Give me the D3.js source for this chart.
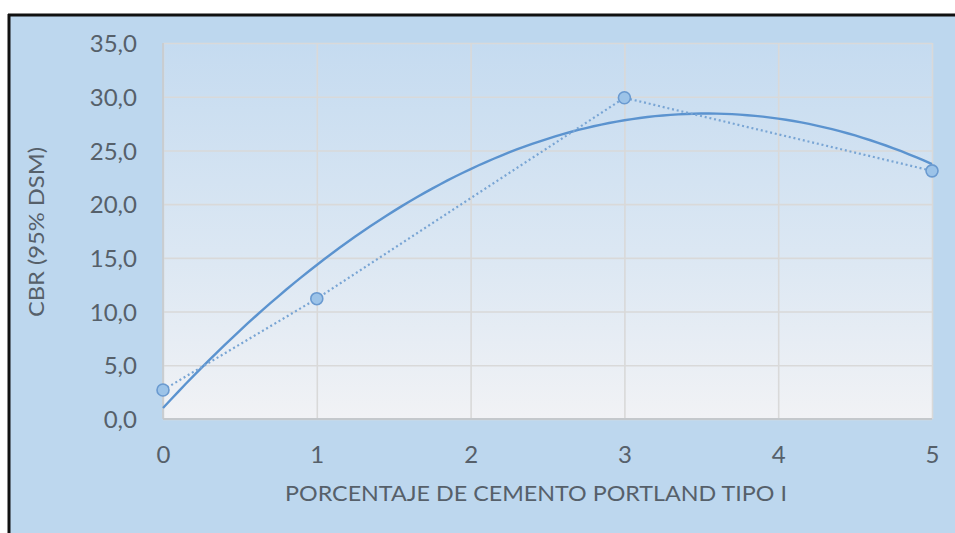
<!DOCTYPE html>
<html>
<head>
<meta charset="utf-8">
<script src="https://cdn.jsdelivr.net/npm/d3@7"></script>
<style>
  html, body { margin: 0; padding: 0; background: #ffffff; }
  svg { display: block; }
  text { font-family: Lato, "Open Sans", sans-serif; fill: #56606a; }
</style>
</head>
<body>
<svg id="chart" width="955" height="533"></svg>
<script>
// Cement content (%) and the measured CBR at 95% of the maximum dry density
const cementPct = [0, 1, 3, 5];
const cbrValues = [2.7, 11.2, 29.9, 23.1];

// Axis ticks
const xTicks = [0, 1, 2, 3, 4, 5];
const yTicks = [0, 5, 10, 15, 20, 25, 30, 35];

// Axis titles
const xTitle = "PORCENTAJE DE CEMENTO PORTLAND TIPO I";
const yTitle = "CBR (95% DSM)";

const svg = d3.select("#chart");
const W = 955, H = 533;
const plot = { left: 163, right: 932, top: 43, bottom: 419 };

const x = d3.scaleLinear().domain([0, 5]).range([plot.left, plot.right]);
const y = d3.scaleLinear().domain([0, 35]).range([plot.bottom, plot.top]);

const commaFmt = d3.formatLocale({ decimal: ",", thousands: ".", grouping: [3], currency: ["", ""] });
const yFmt = commaFmt.format(".1f");

// Chart area with its black frame on the top and left
svg.append("rect").attr("x", 0).attr("y", 0).attr("width", W).attr("height", H).attr("fill", "#ffffff");
svg.append("rect").attr("x", 9).attr("y", 15).attr("width", W - 9).attr("height", H - 15).attr("fill", "#bdd7ee");
svg.append("line").attr("x1", 8).attr("x2", W).attr("y1", 15).attr("y2", 15)
  .attr("stroke", "#111").attr("stroke-width", 3);
svg.append("line").attr("x1", 9).attr("x2", 9).attr("y1", 14).attr("y2", H)
  .attr("stroke", "#111").attr("stroke-width", 3);

// Plot area with a vertical gradient
const defs = svg.append("defs");
const grad = defs.append("linearGradient").attr("id", "plotBg")
  .attr("x1", 0).attr("y1", 0).attr("x2", 0).attr("y2", 1);
grad.append("stop").attr("offset", "0%").attr("stop-color", "#c5dbf0");
grad.append("stop").attr("offset", "55%").attr("stop-color", "#dbe7f3");
grad.append("stop").attr("offset", "100%").attr("stop-color", "#f1f2f5");
svg.append("rect")
  .attr("x", plot.left).attr("y", plot.top)
  .attr("width", plot.right - plot.left).attr("height", plot.bottom - plot.top)
  .attr("fill", "url(#plotBg)");

// Gridlines
const yAxisGrid = d3.axisLeft(y).tickValues(yTicks).tickSize(-(plot.right - plot.left)).tickFormat("");
svg.append("g").attr("transform", `translate(${plot.left},0)`).call(yAxisGrid)
  .call(g => g.select(".domain").remove())
  .call(g => g.selectAll(".tick line").attr("stroke", "#d9d9d9").attr("stroke-width", 1.6));
const xAxisGrid = d3.axisBottom(x).tickValues(xTicks).tickSize(-(plot.bottom - plot.top)).tickFormat("");
svg.append("g").attr("transform", `translate(0,${plot.bottom})`).call(xAxisGrid)
  .call(g => g.select(".domain").remove())
  .call(g => g.selectAll(".tick line").attr("stroke", "#d9d9d9").attr("stroke-width", 1.6));

// Axis lines
svg.append("line").attr("x1", plot.left).attr("x2", plot.left).attr("y1", plot.top).attr("y2", plot.bottom)
  .attr("stroke", "#c8ccd0").attr("stroke-width", 1.8);
svg.append("line").attr("x1", plot.left).attr("x2", plot.right).attr("y1", plot.bottom).attr("y2", plot.bottom)
  .attr("stroke", "#c4c8cc").attr("stroke-width", 2.2);

// Tick labels
const yAxis = d3.axisLeft(y).tickValues(yTicks).tickSize(0).tickPadding(26).tickFormat(yFmt);
svg.append("g").attr("transform", `translate(${plot.left},0)`).call(yAxis)
  .call(g => g.select(".domain").remove())
  .call(g => g.selectAll("text").attr("font-size", 24).attr("font-family", "Lato, sans-serif")
    .attr("fill", "#56606a").attr("dy", "0.36em"));
const xAxis = d3.axisBottom(x).tickValues(xTicks).tickSize(0).tickPadding(27).tickFormat(d3.format("d"));
svg.append("g").attr("transform", `translate(0,${plot.bottom})`).call(xAxis)
  .call(g => g.select(".domain").remove())
  .call(g => g.selectAll("text").attr("font-size", 24).attr("font-family", "Lato, sans-serif")
    .attr("fill", "#56606a"));

// Axis titles
svg.append("text").attr("x", 536).attr("y", 501).attr("text-anchor", "middle")
  .attr("font-size", 22).attr("textLength", 502).attr("lengthAdjust", "spacingAndGlyphs")
  .text(xTitle);
svg.append("text").attr("transform", `translate(44,232) rotate(-90)`).attr("text-anchor", "middle")
  .attr("font-size", 21).attr("textLength", 170).attr("lengthAdjust", "spacingAndGlyphs")
  .text(yTitle);

// Second-order polynomial trendline, least-squares fit of the measured points
function quadFit(xs, ys) {
  const n = xs.length;
  let s = [0, 0, 0, 0, 0], t = [0, 0, 0];
  for (let i = 0; i < n; i++) {
    for (let k = 0; k <= 4; k++) s[k] += Math.pow(xs[i], k);
    for (let k = 0; k <= 2; k++) t[k] += ys[i] * Math.pow(xs[i], k);
  }
  const M = [[s[0], s[1], s[2], t[0]], [s[1], s[2], s[3], t[1]], [s[2], s[3], s[4], t[2]]];
  for (let c = 0; c < 3; c++) {
    for (let r = c + 1; r < 3; r++) {
      const f = M[r][c] / M[c][c];
      for (let k = c; k < 4; k++) M[r][k] -= f * M[c][k];
    }
  }
  const coef = [0, 0, 0];
  for (let r = 2; r >= 0; r--) {
    let v = M[r][3];
    for (let k = r + 1; k < 3; k++) v -= M[r][k] * coef[k];
    coef[r] = v / M[r][r];
  }
  return coef;
}
const [a0, a1, a2] = quadFit(cementPct, cbrValues);
const trendX = d3.range(0, 5.0001, 0.05);
svg.append("path")
  .datum(trendX)
  .attr("fill", "none").attr("stroke", "#5b93cf").attr("stroke-width", 2.4)
  .attr("d", d3.line().x(d => x(d)).y(d => y(a0 + a1 * d + a2 * d * d)));

// Measured series: dotted connecting line with circle markers
const pts = cementPct.map((c, i) => [c, cbrValues[i]]);
svg.append("path")
  .datum(pts)
  .attr("fill", "none").attr("stroke", "#79a5d4").attr("stroke-width", 2.2)
  .attr("stroke-dasharray", "2 2.8")
  .attr("d", d3.line().x(d => x(d[0])).y(d => y(d[1])));
svg.append("g").selectAll("circle").data(pts).join("circle")
  .attr("cx", d => x(d[0])).attr("cy", d => y(d[1])).attr("r", 6)
  .attr("fill", "#9cc3e8").attr("stroke", "#6a9ad0").attr("stroke-width", 1.6);
</script>
</body>
</html>
